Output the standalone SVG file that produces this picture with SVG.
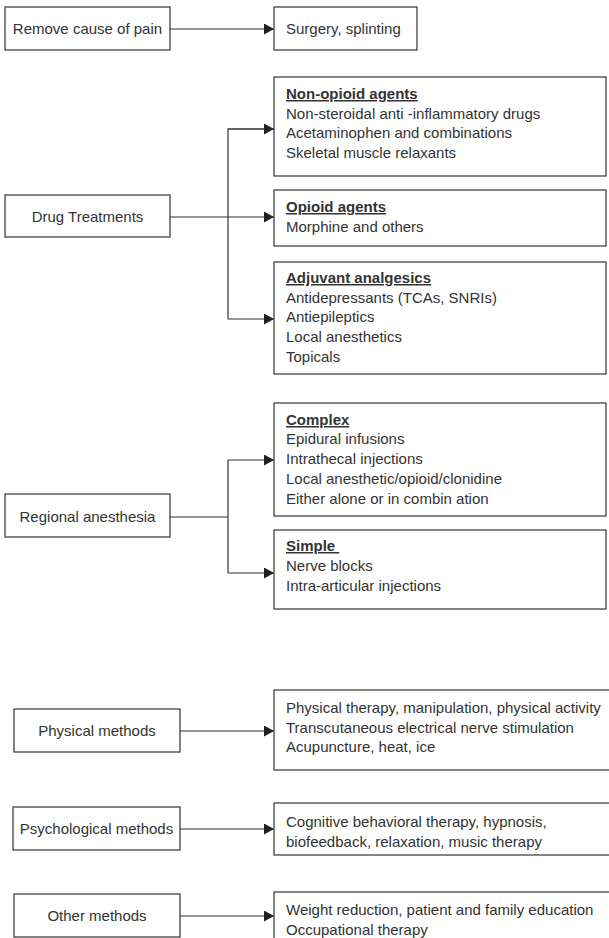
<svg xmlns="http://www.w3.org/2000/svg" width="609" height="938" viewBox="0 0 609 938">
  <style>
    .box { fill: #ffffff; stroke: #333333; stroke-width: 1.2; }
    .wire { fill: none; stroke: #333333; stroke-width: 1.2; }
    .arrow { marker-end: url(#head); }
    text { font-family: "Liberation Sans", Arial, sans-serif; font-size: 15px; fill: #333333; }
    .mid { text-anchor: middle; }
    .hd { font-weight: bold; text-decoration: underline; }
  </style>
  <defs>
    <marker id="head" markerUnits="userSpaceOnUse" markerWidth="10" markerHeight="11" refX="10" refY="5.5" orient="auto">
      <path d="M0,0 L10,5.5 L0,11 Z" fill="#222222"/>
    </marker>
  </defs>
  <rect x="0" y="0" width="609" height="938" fill="#ffffff"/>

  <!-- connectors -->
  <g id="connectors">
    <line class="wire arrow" x1="170" y1="29" x2="274" y2="29"/>
    <line class="wire arrow" x1="170" y1="217" x2="274" y2="217"/>
    <polyline class="wire" points="274,129 228,129 228,319"/>
    <line class="wire arrow" x1="228" y1="129" x2="274" y2="129"/>
    <line class="wire arrow" x1="228" y1="319" x2="274" y2="319"/>
    <line class="wire" x1="170" y1="517" x2="228" y2="517"/>
    <line class="wire" x1="228" y1="460" x2="228" y2="573"/>
    <line class="wire arrow" x1="228" y1="460" x2="274" y2="460"/>
    <line class="wire arrow" x1="228" y1="573" x2="274" y2="573"/>
    <line class="wire arrow" x1="180" y1="731" x2="274" y2="731"/>
    <line class="wire arrow" x1="180" y1="829" x2="274" y2="829"/>
    <line class="wire arrow" x1="180" y1="916" x2="274" y2="916"/>
  </g>

  <!-- cause removal -->
  <g id="remove-cause">
    <rect class="box" x="5" y="7" width="165" height="43"/>
    <text class="mid" x="87.5" y="34">Remove cause of pain</text>
  </g>
  <g id="surgery">
    <rect class="box" x="274" y="7" width="143" height="43"/>
    <text x="286" y="34">Surgery, splinting</text>
  </g>

  <!-- drugs -->
  <g id="drug-treatments">
    <rect class="box" x="5" y="195" width="165" height="42"/>
    <text class="mid" x="87.5" y="222">Drug Treatments</text>
  </g>
  <g id="non-opioid">
    <rect class="box" x="274" y="77" width="332" height="99"/>
    <text class="hd" x="286" y="99">Non-opioid agents</text>
    <text x="286" y="119">Non-steroidal anti -inflammatory drugs</text>
    <text x="286" y="138">Acetaminophen and combinations</text>
    <text x="286" y="158">Skeletal muscle relaxants</text>
  </g>
  <g id="opioid">
    <rect class="box" x="274" y="190" width="332" height="56"/>
    <text class="hd" x="286" y="212">Opioid agents</text>
    <text x="286" y="232">Morphine and others</text>
  </g>
  <g id="adjuvant">
    <rect class="box" x="274" y="262" width="332" height="112"/>
    <text class="hd" x="286" y="283">Adjuvant analgesics</text>
    <text x="286" y="303">Antidepressants (TCAs, SNRIs)</text>
    <text x="286" y="322">Antiepileptics</text>
    <text x="286" y="342">Local anesthetics</text>
    <text x="286" y="362">Topicals</text>
  </g>

  <!-- regional anesthesia -->
  <g id="regional">
    <rect class="box" x="5" y="494" width="165" height="43"/>
    <text class="mid" x="87.5" y="522">Regional anesthesia</text>
  </g>
  <g id="complex">
    <rect class="box" x="274" y="403" width="332" height="113"/>
    <text class="hd" x="286" y="425">Complex</text>
    <text x="286" y="444">Epidural infusions</text>
    <text x="286" y="464">Intrathecal injections</text>
    <text x="286" y="484">Local anesthetic/opioid/clonidine</text>
    <text x="286" y="504">Either alone or in combin ation</text>
  </g>
  <g id="simple">
    <rect class="box" x="274" y="530" width="332" height="79"/>
    <text class="hd" x="286" y="551">Simple&#160;</text>
    <text x="286" y="571">Nerve blocks</text>
    <text x="286" y="591">Intra-articular injections</text>
  </g>

  <!-- non-drug methods -->
  <g id="physical">
    <rect class="box" x="14" y="709" width="166" height="43"/>
    <text class="mid" x="97" y="736">Physical methods</text>
  </g>
  <g id="physical-list">
    <rect class="box" x="274" y="690" width="345" height="80"/>
    <text x="286" y="713">Physical therapy, manipulation, physical activity</text>
    <text x="286" y="733">Transcutaneous electrical nerve stimulation</text>
    <text x="286" y="752">Acupuncture, heat, ice</text>
  </g>
  <g id="psychological">
    <rect class="box" x="13" y="807" width="167" height="43"/>
    <text class="mid" x="96.5" y="834">Psychological methods</text>
  </g>
  <g id="psychological-list">
    <rect class="box" x="274" y="803" width="345" height="52"/>
    <text x="286" y="827">Cognitive behavioral therapy, hypnosis,</text>
    <text x="286" y="847">biofeedback, relaxation, music therapy</text>
  </g>
  <g id="other">
    <rect class="box" x="14" y="894" width="166" height="43"/>
    <text class="mid" x="97" y="921">Other methods</text>
  </g>
  <g id="other-list">
    <rect class="box" x="274" y="892" width="345" height="60"/>
    <text x="286" y="915">Weight reduction, patient and family education</text>
    <text x="286" y="935">Occupational therapy</text>
  </g>
</svg>
